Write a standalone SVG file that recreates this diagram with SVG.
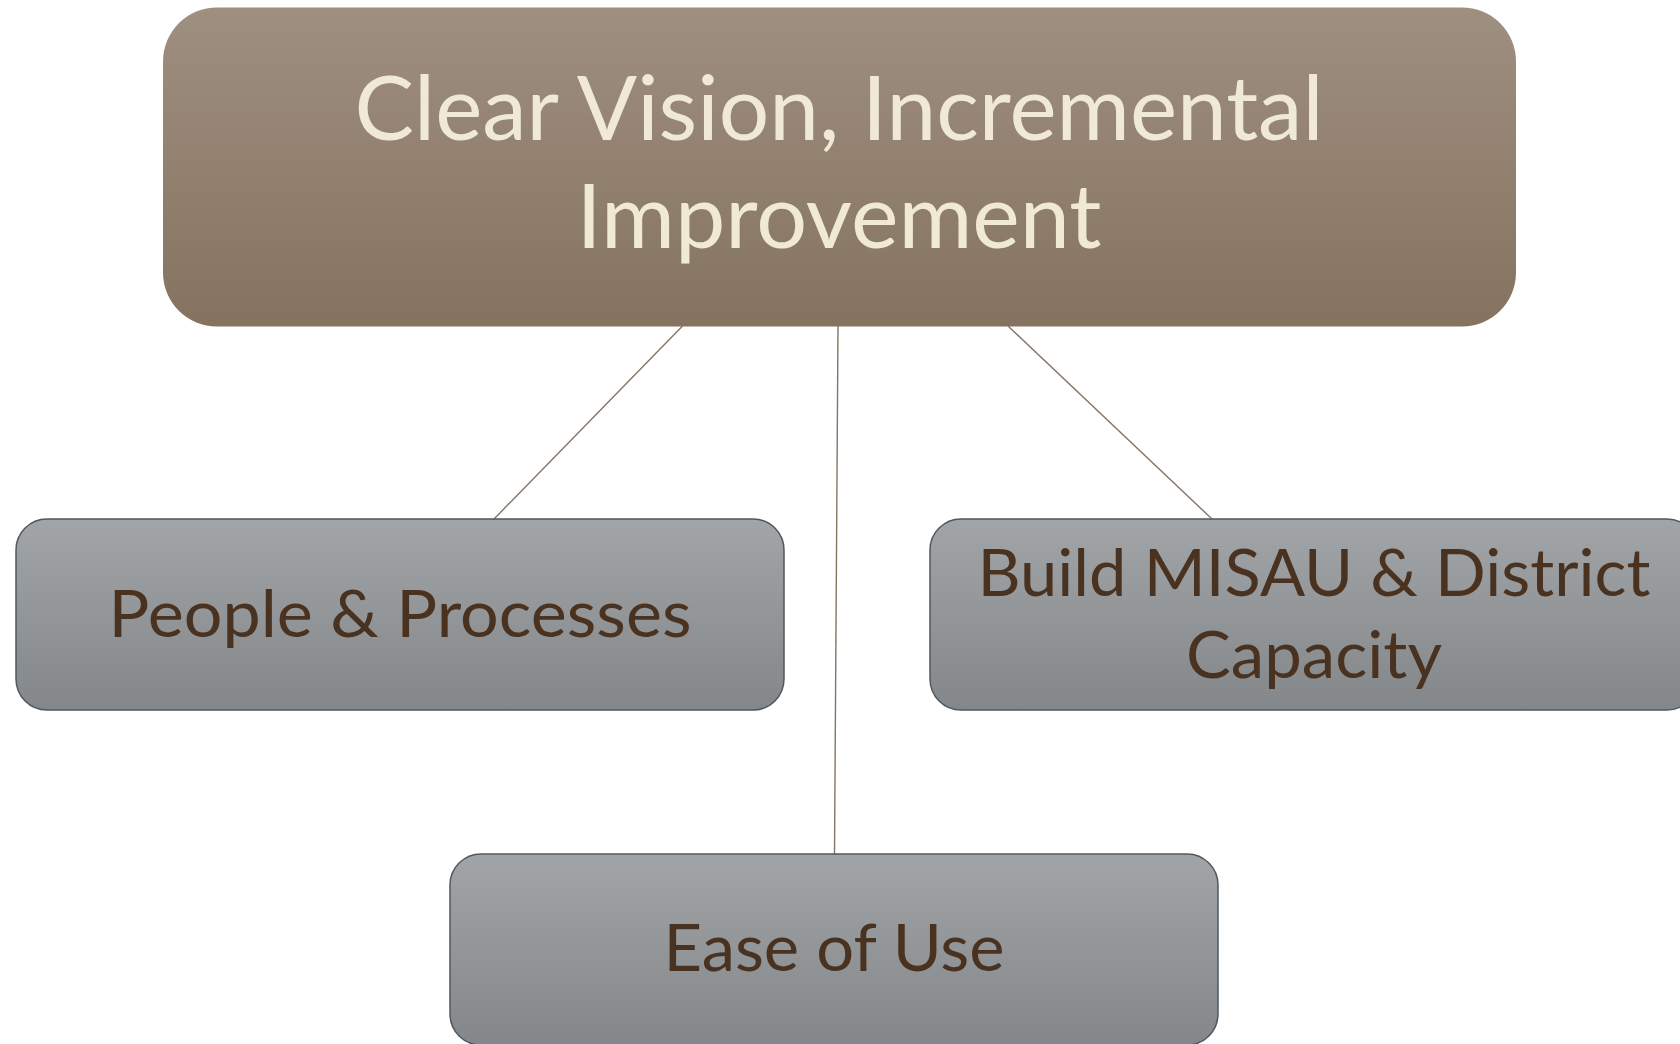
<svg xmlns="http://www.w3.org/2000/svg" width="1680" height="1044" viewBox="0 0 1680 1044">
<defs>
<linearGradient id="gMain" x1="0" y1="0" x2="0" y2="1">
<stop offset="0" stop-color="#9f8f7f"/>
<stop offset="1" stop-color="#857360"/>
</linearGradient>
<linearGradient id="gChild" x1="0" y1="0" x2="0" y2="1">
<stop offset="0" stop-color="#a1a5a8"/>
<stop offset="1" stop-color="#84878a"/>
</linearGradient>
</defs>
<style>
.main{fill:url(#gMain);}
.child{fill:url(#gChild);stroke:#4f5860;stroke-width:1.5;}
.mt{font-family:Lato,"Open Sans",sans-serif;font-size:89px;fill:#efe9d6;text-anchor:middle;}
.ct{font-family:Lato,"Open Sans",sans-serif;font-size:65px;fill:#4a3221;text-anchor:middle;}
.conn line{stroke:#857563;stroke-width:1.4;fill:none;}
</style>
<rect width="1680" height="1044" fill="#ffffff"/>
<g id="connectors" class="conn">
<line x1="682.5" y1="326" x2="494" y2="519"/>
<line x1="838" y1="326" x2="834.5" y2="854"/>
<line x1="1008" y1="326" x2="1212" y2="519"/>
</g>
<g id="node-main">
<rect class="main" x="163" y="7.5" width="1353" height="319" rx="54" ry="54"/>
<text class="mt" x="839" y="140" textLength="969" lengthAdjust="spacingAndGlyphs">Clear Vision, Incremental</text>
<text class="mt" x="839" y="248" textLength="525" lengthAdjust="spacingAndGlyphs">Improvement</text>
</g>
<g id="node-people">
<rect class="child" x="16" y="519" width="768" height="191" rx="31" ry="31"/>
<text class="ct" x="400" y="637" textLength="583" lengthAdjust="spacingAndGlyphs">People &amp; Processes</text>
</g>
<g id="node-build">
<rect class="child" x="930" y="519" width="768" height="191" rx="31" ry="31"/>
<text class="ct" x="1314" y="596" textLength="673" lengthAdjust="spacingAndGlyphs">Build MISAU &amp; District</text>
<text class="ct" x="1314" y="678" textLength="256" lengthAdjust="spacingAndGlyphs">Capacity</text>
</g>
<g id="node-ease">
<rect class="child" x="450" y="854" width="768" height="191" rx="31" ry="31"/>
<text class="ct" x="834" y="971" textLength="341" lengthAdjust="spacingAndGlyphs">Ease of Use</text>
</g>
</svg>
